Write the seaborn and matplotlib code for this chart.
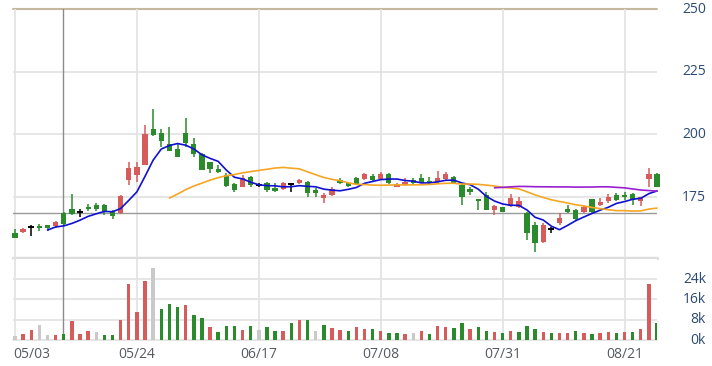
import numpy as np
import pandas as pd
import matplotlib
matplotlib.use("Agg")
import matplotlib.pyplot as plt
import matplotlib.transforms as mtransforms
import seaborn as sns

# ---------------- data ----------------
opens = [160.5, 160.9, 163.2, 163.6, 163.8, 163.4, 168.8, 170.1, 169.0, 171.2,
         171.7, 171.9, 169.0, 168.5, 181.8, 183.8, 187.8, 202.0, 200.4, 196.0,
         194.0, 200.4, 196.0, 192.2, 188.8, 186.3, 183.8, 180.1, 178.9, 183.1,
         179.8, 180.5, 178.5, 178.1, 180.1, 180.7, 181.1, 177.8, 174.5, 175.8,
         181.8, 180.7, 182.5, 182.2, 183.5, 182.2, 184.2, 179.1, 179.8, 181.8,
         182.5, 181.5, 181.1, 182.3, 183.1, 179.8, 178.1, 174.1, 175.8, 169.8,
         170.9, 171.4, 170.9, 168.5, 163.8, 157.2, 162.2, 164.5, 170.2, 169.8,
         169.2, 174.1, 171.8, 173.5, 175.8, 175.8, 176.2, 173.5, 182.1, 184.2]
highs = [162.4, 162.5, 163.7, 164.2, 164.0, 165.4, 169.2, 176.2, 170.1, 172.2,
         172.7, 172.2, 169.8, 175.8, 189.1, 188.8, 203.6, 210.1, 202.0, 203.1,
         196.4, 206.7, 198.4, 192.4, 189.0, 187.8, 184.4, 180.7, 183.8, 183.4,
         180.5, 181.1, 180.7, 181.1, 180.1, 182.2, 181.3, 178.5, 176.5, 179.1,
         182.5, 181.1, 182.8, 184.7, 184.2, 185.1, 184.7, 180.7, 182.7, 182.5,
         184.2, 182.8, 185.5, 185.1, 183.4, 180.5, 178.9, 174.1, 177.1, 171.8,
         171.0, 176.2, 174.9, 169.2, 165.2, 164.5, 163.2, 168.5, 171.8, 170.1,
         171.8, 174.1, 174.5, 176.2, 176.5, 177.1, 176.7, 175.1, 186.4, 184.5]
lows = [158.7, 160.6, 159.5, 161.3, 161.6, 162.8, 163.6, 167.8, 167.2, 169.6,
        169.6, 167.8, 166.4, 168.3, 179.8, 181.1, 187.6, 199.5, 195.1, 193.2,
        191.0, 195.1, 191.1, 185.7, 184.4, 184.7, 179.1, 177.1, 178.8, 178.9,
        179.0, 177.1, 177.1, 177.8, 177.1, 180.2, 175.1, 175.1, 172.5, 175.5,
        180.1, 178.9, 179.8, 181.8, 181.5, 181.8, 180.2, 178.9, 179.4, 180.1,
        180.5, 180.2, 180.7, 181.4, 180.5, 171.8, 175.8, 169.8, 169.8, 167.8,
        169.0, 171.2, 170.5, 157.9, 153.2, 156.8, 160.6, 163.8, 168.5, 165.8,
        168.5, 168.8, 171.4, 172.7, 173.5, 173.8, 171.8, 171.4, 178.9, 178.9]
closes = [158.8, 162.1, 163.2, 162.5, 162.5, 165.0, 164.2, 168.1, 169.0, 170.1,
          170.1, 169.0, 167.4, 175.4, 186.4, 187.1, 200.0, 199.7, 197.5, 193.4,
          191.1, 196.7, 192.2, 185.8, 186.3, 185.1, 179.4, 177.8, 182.5, 179.8,
          179.8, 177.8, 177.4, 180.5, 180.1, 181.8, 176.5, 176.5, 175.8, 178.1,
          180.5, 179.4, 180.2, 184.1, 181.8, 184.2, 180.5, 180.3, 181.1, 180.5,
          180.7, 180.5, 182.5, 184.2, 180.7, 175.1, 177.1, 173.6, 169.8, 171.4,
          169.2, 174.5, 173.5, 160.5, 156.8, 163.8, 162.2, 166.5, 169.2, 166.1,
          171.2, 169.2, 173.1, 174.9, 173.8, 174.9, 173.8, 175.1, 184.2, 179.1]
volumes_k = [1.6, 2.5, 4.0, 5.9, 2.0, 2.0, 2.5, 7.5, 2.5, 3.6,
             3.0, 2.0, 2.0, 7.9, 22.2, 10.9, 23.3, 28.2, 12.1, 14.3,
             12.9, 13.8, 9.9, 8.6, 5.0, 3.0, 5.5, 5.5, 3.9, 5.5,
             3.9, 5.0, 3.6, 3.6, 6.6, 7.9, 7.9, 3.6, 5.9, 4.6,
             3.9, 3.6, 5.2, 4.2, 4.2, 3.7, 2.9, 2.9, 2.2, 2.6,
             3.7, 2.2, 5.6, 5.3, 4.6, 6.6, 4.2, 5.3, 3.7, 3.3,
             2.6, 3.7, 3.3, 5.6, 4.2, 3.3, 2.6, 2.6, 2.9, 3.7,
             2.6, 2.2, 2.9, 3.3, 2.6, 3.3, 3.3, 4.2, 21.9, 6.6]
volume_dir = ["n", "u", "u", "n", "n", "u", "d", "u", "u", "u",
              "n", "d", "d", "u", "u", "u", "u", "n", "d", "d",
              "d", "u", "d", "d", "u", "d", "d", "d", "u", "d",
              "n", "d", "d", "u", "d", "u", "d", "n", "d", "u",
              "u", "d", "u", "u", "d", "u", "d", "d", "u", "n",
              "u", "d", "u", "u", "d", "d", "u", "d", "d", "u",
              "d", "u", "d", "d", "d", "u", "d", "u", "u", "d",
              "u", "d", "u", "u", "d", "u", "d", "u", "u", "d"]
date_labels = ["05/03", "05/24", "06/17", "07/08", "07/31", "08/21"]
date_label_pos = [0, 15, 30, 45, 60, 75]
price_ticks = [250, 225, 200, 175]
volume_ticks = [24, 16, 8, 0]

n = len(closes)
idx = np.arange(n)

# ---------------- style ----------------
sns.set_theme(style="white")
plt.rcParams["font.family"] = ["Open Sans", "DejaVu Sans"]

RED = "#d65b5b"
GREEN = "#2b8a2b"
GRAY = "#c9c9c9"
GRID = "#e4e4e4"
LABEL = "#2d4a73"

fig = plt.figure(figsize=(7.12, 3.66), dpi=100)
L = 13 / 712
W = 644 / 712
ax = fig.add_axes([L, 1 - 258 / 366, W, 249 / 366])
axv = fig.add_axes([L, 1 - 340 / 366, W, 81 / 366])

xmin = -2 / 8.127
xmax = xmin + 644 / 8.127
for a in (ax, axv):
    a.set_xlim(xmin, xmax)
    for s in a.spines.values():
        s.set_visible(False)
    a.set_xticks([])
    a.set_yticks([])
    a.set_facecolor("white")

ymin = 250 - 249 * 0.3989
ax.set_ylim(ymin, 250)

# grid lines
for p in [175, 200, 225]:
    ax.axhline(p, color=GRID, lw=1.3, zorder=0)
ax.axhline(250, color="#c4b89e", lw=1.5, zorder=0, clip_on=False)
ax.axhline(ymin, color="#dddddd", lw=2.5, zorder=0, clip_on=False)
for xp in date_label_pos:
    ax.axvline(xp, color=GRID, lw=1.3, zorder=0)

# crosshair
ax.axhline(168.6, color="#9a9a9a", lw=1.0, zorder=1)
ax.axvline(5.94, color="#8c8c8c", lw=1.0, zorder=1, clip_on=False)

# candles
bw = 0.65
for i in range(n):
    o, h, l, c = opens[i], highs[i], lows[i], closes[i]
    if abs(c - o) < 0.05:
        col = "black"
        ax.vlines(i, l, h, color=col, lw=1.1, zorder=3, clip_on=False)
        ax.hlines(c, i - 0.38, i + 0.38, color=col, lw=1.4, zorder=3, clip_on=False)
        continue
    col = RED if c > o else GREEN
    ax.vlines(i, l, h, color=col, lw=1.1, zorder=3, clip_on=False)
    ax.bar(i, max(abs(c - o), 0.4), bottom=min(o, c), width=bw, color=col,
           linewidth=0, zorder=4, clip_on=False)

# moving averages
cl = pd.Series(closes, index=idx)
for win, colr in [(5, "#1010d0"), (20, "#f5a623"), (60, "#9a1fd0")]:
    ma = cl.rolling(win).mean().dropna()
    sns.lineplot(x=ma.index.values, y=ma.values, ax=ax, color=colr, lw=1.2,
                 zorder=5, clip_on=False)

# volume bars
vdf = pd.DataFrame({"i": idx, "vol": volumes_k, "dir": volume_dir})
vcolors = {"u": RED, "d": GREEN, "n": GRAY}
for key, colr in vcolors.items():
    sub = vdf[vdf["dir"] == key]
    sns.barplot(data=sub, x="i", y="vol", native_scale=True, color=colr,
                width=0.42, saturation=1, ax=axv, zorder=3, linewidth=0)
axv.set_xlim(xmin, xmax)
axv.set_ylim(0, 81 * 0.394)
axv.set_xlabel("")
axv.set_ylabel("")
axv.set_xticks([])
axv.set_yticks([])
for v in [8, 16, 24]:
    axv.axhline(v, color=GRID, lw=1.3, zorder=0)
axv.axhline(0, color="#e0e0e0", lw=1.2, zorder=0, clip_on=False)
for xp in date_label_pos:
    axv.axvline(xp, color=GRID, lw=1.3, zorder=0)
axv.axvline(5.94, color="#8c8c8c", lw=1.0, zorder=1)

# labels
xr = (706 - 13) / 644
tr = mtransforms.blended_transform_factory(ax.transAxes, ax.transData)
for p in price_ticks:
    ax.text(xr, p, str(p), transform=tr, ha="right", va="center",
            fontsize=10, color=LABEL, clip_on=False)
trv = mtransforms.blended_transform_factory(axv.transAxes, axv.transData)
for v in volume_ticks:
    axv.text(xr, v, f"{v}k", transform=trv, ha="right", va="center",
             fontsize=10, color=LABEL, clip_on=False)
trx = mtransforms.blended_transform_factory(axv.transData, axv.transAxes)
ylab = (340 - 354) / 81
for lab, xp in zip(date_labels, date_label_pos):
    if xp == 0:
        axv.text(0, ylab, lab, transform=axv.transAxes, ha="left", va="center",
                 fontsize=10, color="#555a60", clip_on=False)
    else:
        axv.text(xp, ylab, lab, transform=trx, ha="center", va="center",
                 fontsize=10, color="#555a60", clip_on=False)

fig.savefig("out.png", dpi=100, facecolor="white")
